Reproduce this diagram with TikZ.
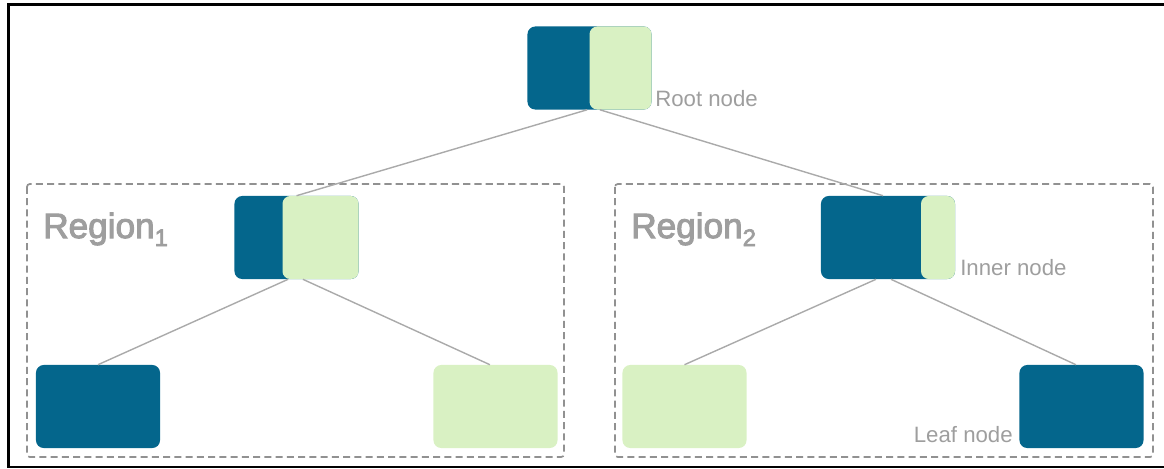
\documentclass[tikz,border=0pt]{standalone}
\usepackage{fontspec}
\setmainfont{Liberation Sans}
\newfontfamily\regionfont[RawFeature={embolden=3}]{Liberation Sans}
\usepackage{xcolor}
\definecolor{leafblue}{RGB}{4,102,140}
\definecolor{leafgreen}{RGB}{217,241,195}
\definecolor{labelgrey}{RGB}{158,158,158}
\definecolor{edgegrey}{RGB}{170,170,170}
\definecolor{dashgrey}{RGB}{145,145,145}
\tikzset{
	leafbox/.style={rounded corners=5.5pt, minimum width=3.1cm, minimum height=2.075cm, inner sep=0pt},
	bluebox/.style={leafbox, fill=leafblue},
	greenbox/.style={leafbox, fill=leafgreen},
	treeedge/.style={draw=edgegrey, line width=1pt},
	regionbox/.style={draw=dashgrey, line width=1.2pt, dash pattern=on 5pt off 3pt, rounded corners=2pt},
	nodelabel/.style={text=labelgrey, font=\fontsize{15.8}{18}\selectfont, inner sep=0pt},
	regionlabel/.style={text=labelgrey, font=\regionfont\fontsize{25}{30}\selectfont, inner sep=0pt, anchor=base west}
}
\newcommand{\regionsub}[1]{{\fontsize{17}{17}\selectfont\raisebox{-5.7pt}{#1}}}

\begin{document}
\begin{tikzpicture}[x=0.025cm, y=-0.025cm]
	\useasboundingbox (0,0) rectangle (1164,468);
	\draw[line width=1.8pt] (1164,4.5) -- (8.5,4.5) -- (8.5,467) -- (1164,467);
	\draw[regionbox] (27,184) rectangle (564,457);
	\draw[regionbox] (615,184) rectangle (1153,457);
	\node[regionlabel] (region1) at (43,238) {Region\regionsub{1}};
	\node[regionlabel] (region2) at (631,238) {Region\regionsub{2}};

	\node[bluebox] (root) at (589.5,68) {};
	\node[greenbox, minimum width=1.55cm, anchor=east] (rootsplit) at (root.east) {};
	\node[bluebox] (inner1) at (296.5,237.5) {};
	\node[greenbox, minimum width=1.9cm, anchor=east] (inner1split) at (inner1.east) {};
	\node[bluebox, minimum width=3.35cm] (inner2) at (888,237.5) {};
	\node[greenbox, minimum width=0.85cm, anchor=east] (inner2split) at (inner2.east) {};
	\node[bluebox] (leaf1) at (98,406.5) {};
	\node[greenbox] (leaf2) at (495.5,406.5) {};
	\node[greenbox] (leaf3) at (684.5,406.5) {};
	\node[bluebox] (leaf4) at (1081.5,406.5) {};

	\draw[treeedge] ([xshift=-0.06cm]root.south) -- (inner1.north);
	\draw[treeedge] ([xshift=0.26cm]root.south) -- ([xshift=-0.125cm]inner2.north);
	\draw[treeedge] ([xshift=-0.21cm]inner1.south) -- (leaf1.north);
	\draw[treeedge] ([xshift=0.16cm]inner1.south) -- ([xshift=-0.14cm]leaf2.north);
	\draw[treeedge] ([xshift=-0.3cm]inner2.south) -- (leaf3.north);
	\draw[treeedge] ([xshift=0.075cm]inner2.south) -- ([xshift=-0.14cm]leaf4.north);

	\node[nodelabel, anchor=base west] (rootlabel) at (655,106) {Root node};
	\node[nodelabel, anchor=base west] (innerlabel) at (960,275) {Inner node};
	\node[nodelabel, anchor=base east] (leaflabel) at (1013,442) {Leaf node};
\end{tikzpicture}
\end{document}
